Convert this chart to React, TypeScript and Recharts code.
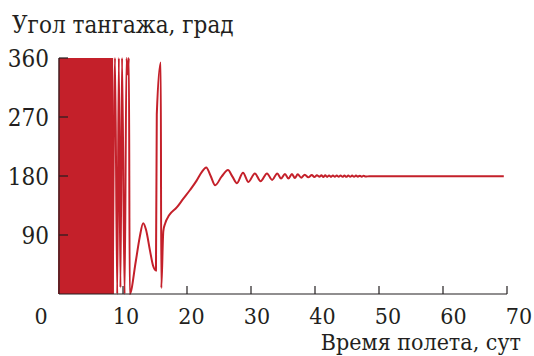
import React from 'react';
import { LineChart, Line, XAxis, YAxis } from 'recharts';

const RED = '#c4202a';
const INK = '#231f20';
const FONT = 'DejaVu Serif Condensed, DejaVu Serif, serif';

const X_TICKS = [0, 10, 20, 30, 40, 50, 60, 70];
const Y_TICKS = [90, 180, 270, 360];

// tumbling phase: angle wraps through 0..360 many times
const spinDays = [
  0, 0.1, 0.2, 0.3, 0.4, 0.5, 0.6, 0.7, 0.8, 0.9, 1, 1.1, 1.2, 1.3, 1.4,
  1.5, 1.6, 1.7, 1.8, 1.9, 2, 2.1, 2.2, 2.3, 2.4, 2.5, 2.6, 2.7, 2.8, 2.9,
  3, 3.1, 3.2, 3.3, 3.4, 3.5, 3.6, 3.7, 3.8, 3.9, 4, 4.1, 4.2, 4.3, 4.4,
  4.5, 4.6, 4.7, 4.8, 4.9, 5, 5.1, 5.2, 5.3, 5.4, 5.5, 5.6, 5.7, 5.8, 5.9,
  6, 6.1, 6.2, 6.3, 6.4, 6.5, 6.6, 6.7, 6.8, 6.9, 7, 7.1, 7.2, 7.3, 7.4,
  7.5, 7.6, 7.7, 7.8, 7.9, 8, 8.1, 8.2, 8.3, 8.4,
];
const spinAngle = [
  0, 360, 0, 360, 0, 360, 0, 360, 0, 360, 0, 360, 0, 360, 0,
  360, 0, 360, 0, 360, 0, 360, 0, 360, 0, 360, 0, 360, 0, 360,
  0, 360, 0, 360, 0, 360, 0, 360, 0, 360, 0, 360, 0, 360, 0,
  360, 0, 360, 0, 360, 0, 360, 0, 360, 0, 360, 0, 360, 0, 360,
  0, 360, 0, 360, 0, 360, 0, 360, 0, 360, 0, 360, 0, 360, 0,
  360, 0, 360, 0, 360, 0, 360, 0, 360, 0,
];

// slowing down, capture and damped oscillation around 180
const tailDays = [
  8.4, 8.75, 9.1, 9.35, 9.6, 9.85, 10.25, 10.55, 10.75, 10.92, 11.05,
  12.0, 12.6, 13.15, 13.6, 14.2, 14.7, 15.15, 15.28, 15.9, 15.98,
  16.3, 16.6, 17.2, 18.4, 19.4, 20.5, 21.5, 22.3, 23.0, 23.7, 24.4,
  25.4, 26.4, 27.1, 27.8, 28.75, 29.6, 30.6, 31.5, 32.5, 33.3, 34.1,
  34.7, 35.3, 35.85, 36.4, 36.85, 37.3, 37.85, 38.4, 38.95, 39.5, 39.9,
  40.3, 40.7, 41.0, 41.3, 41.6, 41.9, 42.2, 42.5, 42.8, 43.1, 43.4,
  43.7, 44.0, 44.3, 44.6, 44.9, 45.2, 45.5, 45.8, 46.1, 46.4, 46.7,
  47.0, 47.3, 47.6, 47.9, 48.5, 56, 69.5,
];
const tailAngle = [
  0, 360, 0, 360, 10, 360, 0, 360, 335, 360, 0,
  50, 86, 108, 98, 67, 43, 36, 274, 353, 9,
  96, 108, 120, 132, 145, 159, 173, 186, 193, 180, 166,
  179, 189, 179, 169, 185, 171, 184, 172, 184, 174, 184,
  176, 183, 176, 183, 177, 182.5, 177.5, 182, 178, 181.5, 178.5,
  181, 179, 181, 178.5, 181, 178.6, 180.9, 178.6, 180.9, 178.7, 180.8,
  178.7, 180.8, 178.8, 180.7, 178.8, 180.7, 178.9, 180.6, 178.9, 180.6, 179,
  180.5, 179, 180.4, 179.1, 179.8, 179.8, 179.8,
];

// one row per time, spin and tail share the row at 8.4
const rows = new Map<number, { t: number; spin?: number; deg?: number }>();
spinDays.forEach((t, i) => rows.set(t, { t, spin: spinAngle[i] }));
tailDays.forEach((t, i) => rows.set(t, { ...(rows.get(t) || { t }), deg: tailAngle[i] }));
const data = [...rows.values()].sort((a, b) => a.t - b.t);

const XTick = (props: any) => {
  const { x, y, payload } = props;
  const v = payload.value;
  // the origin label sits left of the corner, the others drift a bit right
  const lx = v === 0 ? x - 18 : x + 1.5 + v * 0.15;
  return (
    <g>
      {v !== 0 && <line x1={x} y1={y} x2={x} y2={y - 8} stroke={INK} strokeWidth={1.2} />}
      <text x={lx} y={y + 30} textAnchor="middle" fontFamily={FONT} fontSize={23} fill={INK}>
        {v}
      </text>
    </g>
  );
};

const YTick = (props: any) => {
  const { x, y, payload } = props;
  return (
    <g>
      <line x1={x} y1={y} x2={x + 9} y2={y} stroke={INK} strokeWidth={1.2} />
      <text x={x - 10} y={y + 8.5} textAnchor="end" fontFamily={FONT} fontSize={24} fill={INK}>
        {payload.value}
      </text>
    </g>
  );
};

export default function App() {
  return (
    <div style={{ position: 'absolute', left: 0, top: 0, width: 534, height: 356, background: '#fff', fontFamily: FONT }}>
      <LineChart width={534} height={356} data={data} margin={{ top: 58, right: 27, bottom: 0, left: 0 }}>
        <XAxis
          dataKey="t"
          type="number"
          domain={[0, 70]}
          ticks={X_TICKS}
          interval={0}
          height={62}
          tickSize={0}
          tickMargin={0}
          tickLine={false}
          tick={XTick}
          axisLine={{ stroke: INK, strokeWidth: 1.2 }}
        />
        <YAxis
          type="number"
          domain={[0, 360]}
          ticks={Y_TICKS}
          interval={0}
          width={59}
          tickSize={0}
          tickMargin={0}
          tickLine={false}
          tick={YTick}
          axisLine={{ stroke: INK, strokeWidth: 1.2 }}
        />
        <Line
          type="linear"
          dataKey="spin"
          stroke={RED}
          strokeWidth={2}
          dot={false}
          isAnimationActive={false}
        />
        <Line
          type="monotone"
          dataKey="deg"
          stroke={RED}
          strokeWidth={2}
          dot={false}
          isAnimationActive={false}
        />
      </LineChart>
      <svg
        width={534}
        height={356}
        style={{ position: 'absolute', left: 0, top: 0, pointerEvents: 'none' }}
      >
        <text x={12} y={33} fontFamily={FONT} fontSize={24} fill={INK}>
          Угол тангажа, град
        </text>
        <text x={521} y={350} textAnchor="end" fontFamily={FONT} fontSize={23} fill={INK}>
          Время полета, сут
        </text>
      </svg>
    </div>
  );
}
